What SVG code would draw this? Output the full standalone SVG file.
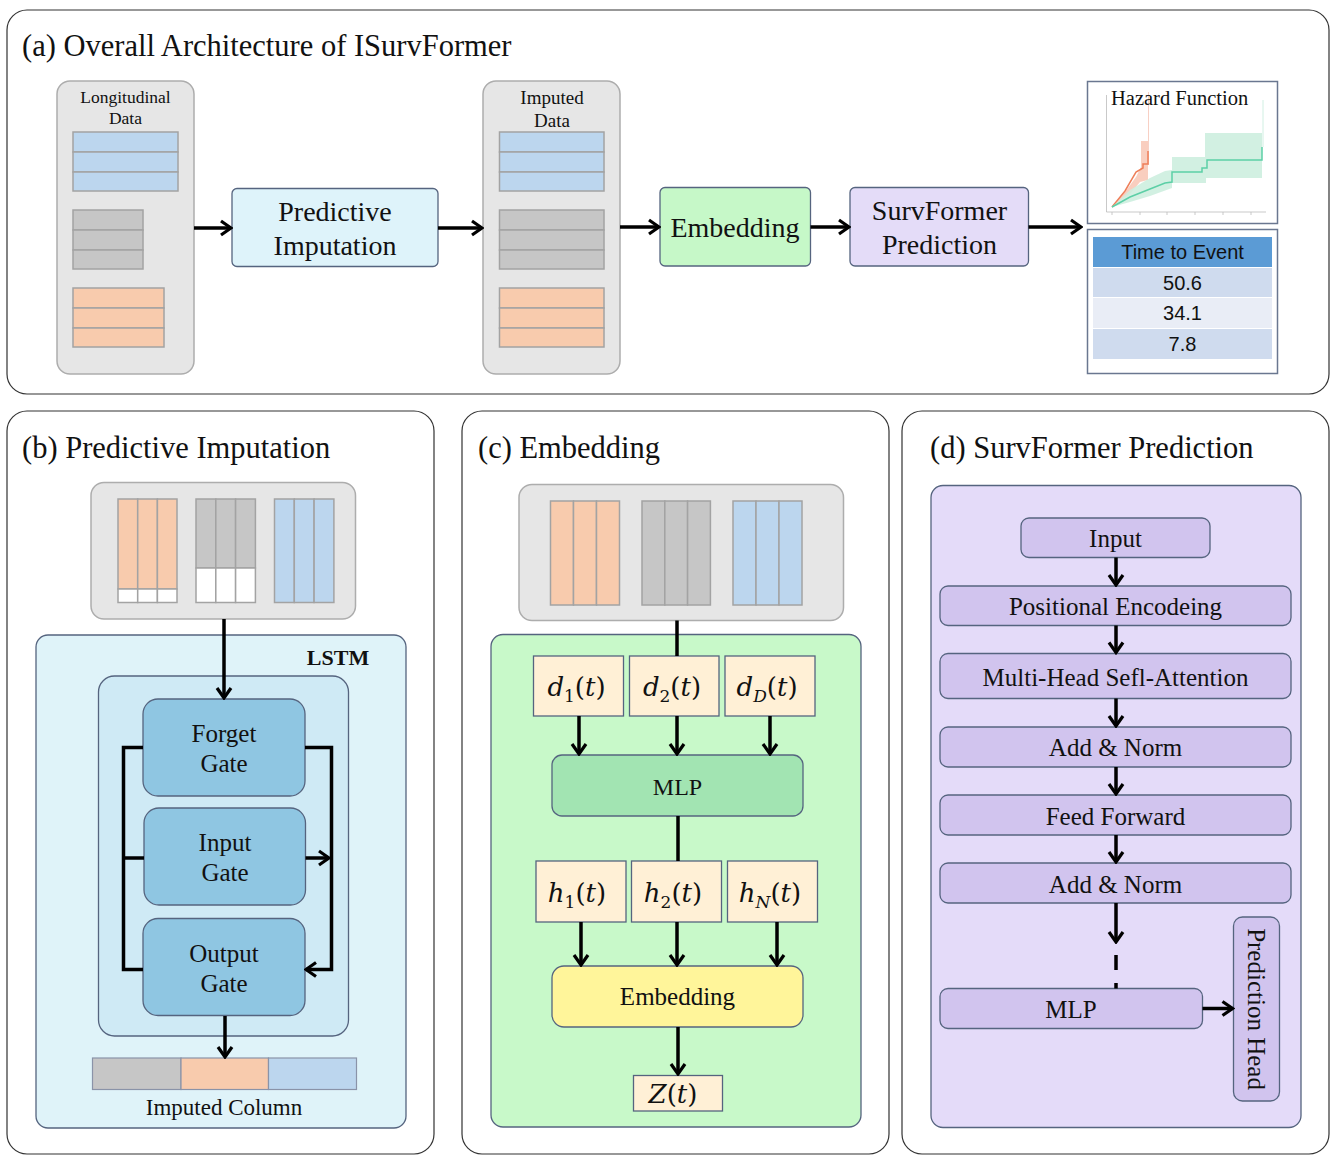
<svg xmlns="http://www.w3.org/2000/svg" width="1340" height="1160" viewBox="0 0 1340 1160">
<defs>
<marker id="ah" markerUnits="userSpaceOnUse" markerWidth="14" markerHeight="18" viewBox="0 0 14 18" refX="12" refY="9" orient="auto">
<path d="M2,2 L12,9 L2,16" fill="none" stroke="#000" stroke-width="3.2"/>
</marker>
<style>
text{font-family:"Liberation Serif","Times New Roman",serif;fill:#111}
.panel{fill:#fff;stroke:#333;stroke-width:1.2}
.title{font-size:30.5px}
.gbox{fill:#e6e6e6;stroke:#adadad;stroke-width:1.5}
.blue{fill:#bcd6ee;stroke:#a3a3a3;stroke-width:1.5}
.gray{fill:#c6c6c6;stroke:#a3a3a3;stroke-width:1.5}
.orng{fill:#f8cbad;stroke:#a3a3a3;stroke-width:1.5}
.wht{fill:#fff;stroke:#a3a3a3;stroke-width:1.5}
.bx{stroke:#55647f;stroke-width:1.3}
.c{text-anchor:middle}
.conn{fill:none;stroke:#000;stroke-width:3.5}
.math{font-family:"DejaVu Serif",serif;font-size:26px}
.it{font-style:italic}
.sans{font-family:"Liberation Sans",Arial,sans-serif;font-size:20px}
</style>
</defs>
<rect width="1340" height="1160" fill="#fff"/>

<!-- Panels -->
<g id="panel-a">
<rect class="panel" x="7" y="10" width="1322" height="384" rx="20"/>
<text class="title" x="22" y="56">(a) Overall Architecture of ISurvFormer</text>
</g>
<g id="panel-b">
<rect class="panel" x="7" y="411" width="427" height="743" rx="20"/>
<text class="title" x="22" y="458">(b) Predictive Imputation</text>
</g>
<g id="panel-c">
<rect class="panel" x="462" y="411" width="427" height="743" rx="20"/>
<text class="title" x="478" y="458">(c) Embedding</text>
</g>
<g id="panel-d">
<rect class="panel" x="902" y="411" width="427" height="743" rx="20"/>
<text class="title" x="930" y="458">(d) SurvFormer Prediction</text>
</g>

<!-- (a) nodes -->
<g id="longitudinal-data">
<rect class="gbox" x="57" y="81" width="137" height="293" rx="13"/>
<text class="c" x="125.5" y="103" font-size="17.5">Longitudinal</text>
<text class="c" x="125.5" y="124" font-size="17.5">Data</text>
<rect class="blue" x="73" y="132" width="105" height="20"/>
<rect class="blue" x="73" y="152" width="105" height="20"/>
<rect class="blue" x="73" y="172" width="105" height="19"/>
<rect class="gray" x="73" y="210" width="70" height="20"/>
<rect class="gray" x="73" y="230" width="70" height="20"/>
<rect class="gray" x="73" y="250" width="70" height="19"/>
<rect class="orng" x="73" y="288" width="91" height="20"/>
<rect class="orng" x="73" y="308" width="91" height="20"/>
<rect class="orng" x="73" y="328" width="91" height="19"/>
</g>
<g id="predictive-imputation">
<rect class="bx" x="232" y="188.5" width="206" height="78" rx="5" fill="#def3fa"/>
<text class="c" x="335" y="221" font-size="28">Predictive</text>
<text class="c" x="335" y="255" font-size="28">Imputation</text>
</g>
<g id="imputed-data">
<rect class="gbox" x="483" y="81" width="137" height="293" rx="13"/>
<text class="c" x="552" y="104" font-size="19">Imputed</text>
<text class="c" x="552" y="127" font-size="19">Data</text>
<rect class="blue" x="499.5" y="132" width="104.5" height="20"/>
<rect class="blue" x="499.5" y="152" width="104.5" height="20"/>
<rect class="blue" x="499.5" y="172" width="104.5" height="19"/>
<rect class="gray" x="499.5" y="210" width="104.5" height="20"/>
<rect class="gray" x="499.5" y="230" width="104.5" height="20"/>
<rect class="gray" x="499.5" y="250" width="104.5" height="19"/>
<rect class="orng" x="499.5" y="288" width="104.5" height="20"/>
<rect class="orng" x="499.5" y="308" width="104.5" height="20"/>
<rect class="orng" x="499.5" y="328" width="104.5" height="19"/>
</g>
<g id="embedding-a">
<rect class="bx" x="660" y="187.5" width="150.5" height="78.5" rx="5" fill="#c6f8c8"/>
<text class="c" x="735" y="237" font-size="28">Embedding</text>
</g>
<g id="survformer-prediction">
<rect class="bx" x="850" y="187.5" width="178.5" height="78.5" rx="5" fill="#e4dcf8"/>
<text class="c" x="939.5" y="220" font-size="28">SurvFormer</text>
<text class="c" x="939.5" y="254" font-size="28">Prediction</text>
</g>
<g id="hazard-function">
<rect x="1087.5" y="81.5" width="190" height="142" fill="#fff" stroke="#6a7790" stroke-width="1.5"/>
<line x1="1106.5" y1="95" x2="1106.5" y2="212" stroke="#bbb" stroke-width="0.8"/>
<line x1="1106.5" y1="212" x2="1266" y2="212" stroke="#bbb" stroke-width="0.8"/>
<g stroke="#bbb" stroke-width="0.8">
<line x1="1112" y1="212" x2="1112" y2="215"/><line x1="1140" y1="212" x2="1140" y2="215"/><line x1="1167" y1="212" x2="1167" y2="215"/><line x1="1195" y1="212" x2="1195" y2="215"/><line x1="1223" y1="212" x2="1223" y2="215"/><line x1="1251" y1="212" x2="1251" y2="215"/>
</g>
<line x1="1148.5" y1="92" x2="1148.5" y2="165" stroke="#f8d0c4" stroke-width="1"/>
<line x1="1263" y1="100" x2="1263" y2="147" stroke="#d0efe2" stroke-width="1"/>
<polygon points="1112,207 1125,192 1136,177 1141,167 1141,141 1148,141 1148,180 1140,182 1130,194 1112,207" fill="#f8c6b4" opacity="0.85"/>
<polyline points="1112,207 1125,191 1136,172 1143,168 1143,164 1148,164 1148,151" fill="none" stroke="#ee7f5a" stroke-width="1.5"/>
<polygon points="1112,207 1130,190 1150,178 1165,171 1172,170 1172,157 1205,157 1205,133 1262,133 1262,178 1206,178 1206,183 1172,183 1172,188 1150,196 1130,202 1112,207" fill="#cdeedf" opacity="0.9"/>
<polyline points="1112,207 1130,197 1150,189 1165,183 1172,182 1172,172 1202,172 1202,168 1207,168 1207,160 1262,160 1262,147" fill="none" stroke="#5ccfa6" stroke-width="1.5"/>
<text x="1111" y="105" font-size="20.5">Hazard Function</text>
</g>
<g id="time-to-event">
<rect x="1087.5" y="229.5" width="190" height="144" fill="#fff" stroke="#6a7790" stroke-width="1.5"/>
<rect x="1093" y="237" width="179" height="30" fill="#5b9bd5"/>
<rect x="1093" y="268" width="179" height="29" fill="#cfdbee"/>
<rect x="1093" y="298" width="179" height="30" fill="#e9edf6"/>
<rect x="1093" y="329" width="179" height="30" fill="#cfdbee"/>
<text class="sans c" x="1182.5" y="259">Time to Event</text>
<text class="sans c" x="1182.5" y="290">50.6</text>
<text class="sans c" x="1182.5" y="320">34.1</text>
<text class="sans c" x="1182.5" y="351">7.8</text>
</g>

<!-- (b) nodes -->
<g id="b-input-data">
<rect class="gbox" x="91" y="482.5" width="264.5" height="136.5" rx="13"/>
<rect class="orng" x="118" y="499" width="19.7" height="90"/><rect class="orng" x="137.7" y="499" width="19.7" height="90"/><rect class="orng" x="157.4" y="499" width="19.6" height="90"/>
<rect class="wht" x="118" y="589" width="19.7" height="13.5"/><rect class="wht" x="137.7" y="589" width="19.7" height="13.5"/><rect class="wht" x="157.4" y="589" width="19.6" height="13.5"/>
<rect class="gray" x="196" y="499" width="19.8" height="69"/><rect class="gray" x="215.8" y="499" width="19.8" height="69"/><rect class="gray" x="235.6" y="499" width="19.8" height="69"/>
<rect class="wht" x="196" y="568" width="19.8" height="34.5"/><rect class="wht" x="215.8" y="568" width="19.8" height="34.5"/><rect class="wht" x="235.6" y="568" width="19.8" height="34.5"/>
<rect class="blue" x="274.5" y="499" width="19.8" height="103.5"/><rect class="blue" x="294.3" y="499" width="19.8" height="103.5"/><rect class="blue" x="314.1" y="499" width="19.8" height="103.5"/>
</g>
<g id="lstm">
<rect class="bx" x="36" y="635" width="370" height="493" rx="12" fill="#dff3f9"/>
<text x="338" y="665" font-size="22" font-weight="bold" class="c">LSTM</text>
<rect class="bx" x="98.5" y="676" width="250" height="360" rx="16" fill="#cfeaf5"/>
</g>
<g id="forget-gate">
<rect class="bx" x="143" y="699" width="162" height="97" rx="15" fill="#8fc6e2"/>
<text class="c" x="224" y="742" font-size="25">Forget</text>
<text class="c" x="224" y="772" font-size="25">Gate</text>
</g>
<g id="input-gate">
<rect class="bx" x="144" y="808" width="161.5" height="97" rx="15" fill="#8fc6e2"/>
<text class="c" x="225" y="851" font-size="25">Input</text>
<text class="c" x="225" y="881" font-size="25">Gate</text>
</g>
<g id="output-gate">
<rect class="bx" x="143" y="918.5" width="162" height="97" rx="15" fill="#8fc6e2"/>
<text class="c" x="224" y="962" font-size="25">Output</text>
<text class="c" x="224" y="992" font-size="25">Gate</text>
</g>
<g id="imputed-column">
<rect x="92.5" y="1058" width="88.5" height="31.5" fill="#c6c6c6" stroke="#8a93a8" stroke-width="1.2"/>
<rect x="181" y="1058" width="87.5" height="31.5" fill="#f8cbad" stroke="#8a93a8" stroke-width="1.2"/>
<rect x="268.5" y="1058" width="88" height="31.5" fill="#bcd6ee" stroke="#8a93a8" stroke-width="1.2"/>
<text class="c" x="224" y="1115" font-size="23">Imputed Column</text>
</g>

<!-- (c) nodes -->
<g id="c-input-data">
<rect class="gbox" x="519" y="484.5" width="324.5" height="136" rx="13"/>
<rect class="orng" x="550.5" y="501" width="23" height="104"/><rect class="orng" x="573.5" y="501" width="23" height="104"/><rect class="orng" x="596.5" y="501" width="23" height="104"/>
<rect class="gray" x="642" y="501" width="22.8" height="104"/><rect class="gray" x="664.8" y="501" width="22.8" height="104"/><rect class="gray" x="687.6" y="501" width="22.8" height="104"/>
<rect class="blue" x="733" y="501" width="23" height="104"/><rect class="blue" x="756" y="501" width="23" height="104"/><rect class="blue" x="779" y="501" width="23" height="104"/>
</g>
<g id="embedding-container">
<rect class="bx" x="491" y="634.5" width="370" height="492.5" rx="12" fill="#c8f9c9"/>
</g>
<g id="d1">
<rect class="bx" x="533.5" y="656" width="90" height="60" fill="#fff0d6"/>
<text class="math c" x="576.5" y="696"><tspan class="it">d</tspan><tspan font-size="17" dy="6">1</tspan><tspan dy="-6">(</tspan><tspan class="it">t</tspan>)</text>
</g>
<g id="d2">
<rect class="bx" x="629.5" y="656" width="89.5" height="60" fill="#fff0d6"/>
<text class="math c" x="672" y="696"><tspan class="it">d</tspan><tspan font-size="17" dy="6">2</tspan><tspan dy="-6">(</tspan><tspan class="it">t</tspan>)</text>
</g>
<g id="dD">
<rect class="bx" x="725" y="656" width="90" height="60" fill="#fff0d6"/>
<text class="math c" x="767" y="696"><tspan class="it">d</tspan><tspan font-size="17" dy="6" class="it">D</tspan><tspan dy="-6">(</tspan><tspan class="it">t</tspan>)</text>
</g>
<g id="mlp-c">
<rect class="bx" x="552" y="755" width="251" height="61" rx="10" fill="#a2e4b2"/>
<text class="c" x="677.5" y="795" font-size="24">MLP</text>
</g>
<g id="h1">
<rect class="bx" x="536" y="861" width="90" height="61" fill="#fff0d6"/>
<text class="math c" x="577" y="902"><tspan class="it">h</tspan><tspan font-size="17" dy="6">1</tspan><tspan dy="-6">(</tspan><tspan class="it">t</tspan>)</text>
</g>
<g id="h2">
<rect class="bx" x="631.5" y="861" width="90" height="61" fill="#fff0d6"/>
<text class="math c" x="673" y="902"><tspan class="it">h</tspan><tspan font-size="17" dy="6">2</tspan><tspan dy="-6">(</tspan><tspan class="it">t</tspan>)</text>
</g>
<g id="hN">
<rect class="bx" x="727.5" y="861" width="90" height="61" fill="#fff0d6"/>
<text class="math c" x="770" y="902"><tspan class="it">h</tspan><tspan font-size="17" dy="6" class="it">N</tspan><tspan dy="-6">(</tspan><tspan class="it">t</tspan>)</text>
</g>
<g id="embedding-c">
<rect class="bx" x="552" y="966" width="251" height="61" rx="12" fill="#fff59a"/>
<text class="c" x="677.5" y="1005" font-size="25">Embedding</text>
</g>
<g id="z">
<rect class="bx" x="633.5" y="1075.5" width="89" height="35.5" fill="#fff0d6"/>
<text class="math c" x="673" y="1103"><tspan class="it">Z</tspan>(<tspan class="it">t</tspan>)</text>
</g>

<!-- (d) nodes -->
<g id="survformer-container">
<rect class="bx" x="931" y="485.5" width="370" height="642" rx="12" fill="#e4dbf9"/>
</g>
<g id="d-input">
<rect class="bx" x="1021" y="518" width="189" height="39.5" rx="8" fill="#d1c4ee"/>
<text class="c" x="1115.5" y="547" font-size="25">Input</text>
</g>
<g id="positional-encoding">
<rect class="bx" x="940" y="586" width="351" height="39.5" rx="8" fill="#d1c4ee"/>
<text class="c" x="1115.5" y="615" font-size="25">Positional Encodeing</text>
</g>
<g id="mhsa">
<rect class="bx" x="940" y="653.5" width="351" height="45" rx="8" fill="#d1c4ee"/>
<text class="c" x="1115.5" y="686" font-size="25">Multi-Head Sefl-Attention</text>
</g>
<g id="add-norm-1">
<rect class="bx" x="940" y="727" width="351" height="40" rx="8" fill="#d1c4ee"/>
<text class="c" x="1115.5" y="756" font-size="25">Add &amp; Norm</text>
</g>
<g id="feed-forward">
<rect class="bx" x="940" y="795" width="351" height="40" rx="8" fill="#d1c4ee"/>
<text class="c" x="1115.5" y="825" font-size="25">Feed Forward</text>
</g>
<g id="add-norm-2">
<rect class="bx" x="940" y="863" width="351" height="40" rx="8" fill="#d1c4ee"/>
<text class="c" x="1115.5" y="893" font-size="25">Add &amp; Norm</text>
</g>
<g id="mlp-d">
<rect class="bx" x="940" y="988.5" width="262.5" height="40" rx="8" fill="#d1c4ee"/>
<text class="c" x="1071" y="1018" font-size="25">MLP</text>
</g>
<g id="prediction-head">
<rect class="bx" x="1233.5" y="917" width="46" height="184" rx="9" fill="#d1c4ee"/>
<text class="c" x="0" y="0" font-size="25" transform="translate(1248,1009) rotate(90)">Prediction Head</text>
</g>

<!-- Connectors -->
<g id="connectors">
<line class="conn" x1="194" y1="228" x2="231" y2="228" marker-end="url(#ah)"/>
<line class="conn" x1="438" y1="228" x2="482" y2="228" marker-end="url(#ah)"/>
<line class="conn" x1="620" y1="227" x2="659" y2="227" marker-end="url(#ah)"/>
<line class="conn" x1="810.5" y1="227" x2="849" y2="227" marker-end="url(#ah)"/>
<line class="conn" x1="1028.5" y1="227" x2="1081" y2="227" marker-end="url(#ah)"/>

<line class="conn" x1="224" y1="619" x2="224" y2="698" marker-end="url(#ah)"/>
<polyline class="conn" points="143,747.5 123.5,747.5 123.5,969.5 143,969.5"/>
<line class="conn" x1="123.5" y1="858" x2="144" y2="858"/>
<polyline class="conn" points="305,747.5 331.5,747.5 331.5,969.5 306,969.5" marker-end="url(#ah)"/>
<line class="conn" x1="305.5" y1="858" x2="329" y2="858" marker-end="url(#ah)"/>
<line class="conn" x1="225" y1="1016" x2="225" y2="1057" marker-end="url(#ah)"/>

<line class="conn" x1="677" y1="620.5" x2="677" y2="656"/>
<line class="conn" x1="579" y1="716" x2="579" y2="754" marker-end="url(#ah)"/>
<line class="conn" x1="677" y1="716" x2="677" y2="754" marker-end="url(#ah)"/>
<line class="conn" x1="770" y1="716" x2="770" y2="754" marker-end="url(#ah)"/>
<line class="conn" x1="678" y1="816" x2="678" y2="861"/>
<line class="conn" x1="581" y1="922" x2="581" y2="965" marker-end="url(#ah)"/>
<line class="conn" x1="677" y1="922" x2="677" y2="965" marker-end="url(#ah)"/>
<line class="conn" x1="777" y1="922" x2="777" y2="965" marker-end="url(#ah)"/>
<line class="conn" x1="678" y1="1027" x2="678" y2="1074" marker-end="url(#ah)"/>

<line class="conn" x1="1116" y1="557.5" x2="1116" y2="585" marker-end="url(#ah)"/>
<line class="conn" x1="1116" y1="625.5" x2="1116" y2="652.5" marker-end="url(#ah)"/>
<line class="conn" x1="1116" y1="698.5" x2="1116" y2="726" marker-end="url(#ah)"/>
<line class="conn" x1="1116" y1="767" x2="1116" y2="794" marker-end="url(#ah)"/>
<line class="conn" x1="1116" y1="835" x2="1116" y2="862" marker-end="url(#ah)"/>
<line class="conn" x1="1116" y1="903" x2="1116" y2="942" marker-end="url(#ah)"/>
<line class="conn" x1="1116" y1="955" x2="1116" y2="988.5" stroke-dasharray="15 13"/>
<line class="conn" x1="1202.5" y1="1008.5" x2="1232.5" y2="1008.5" marker-end="url(#ah)"/>
</g>
</svg>
